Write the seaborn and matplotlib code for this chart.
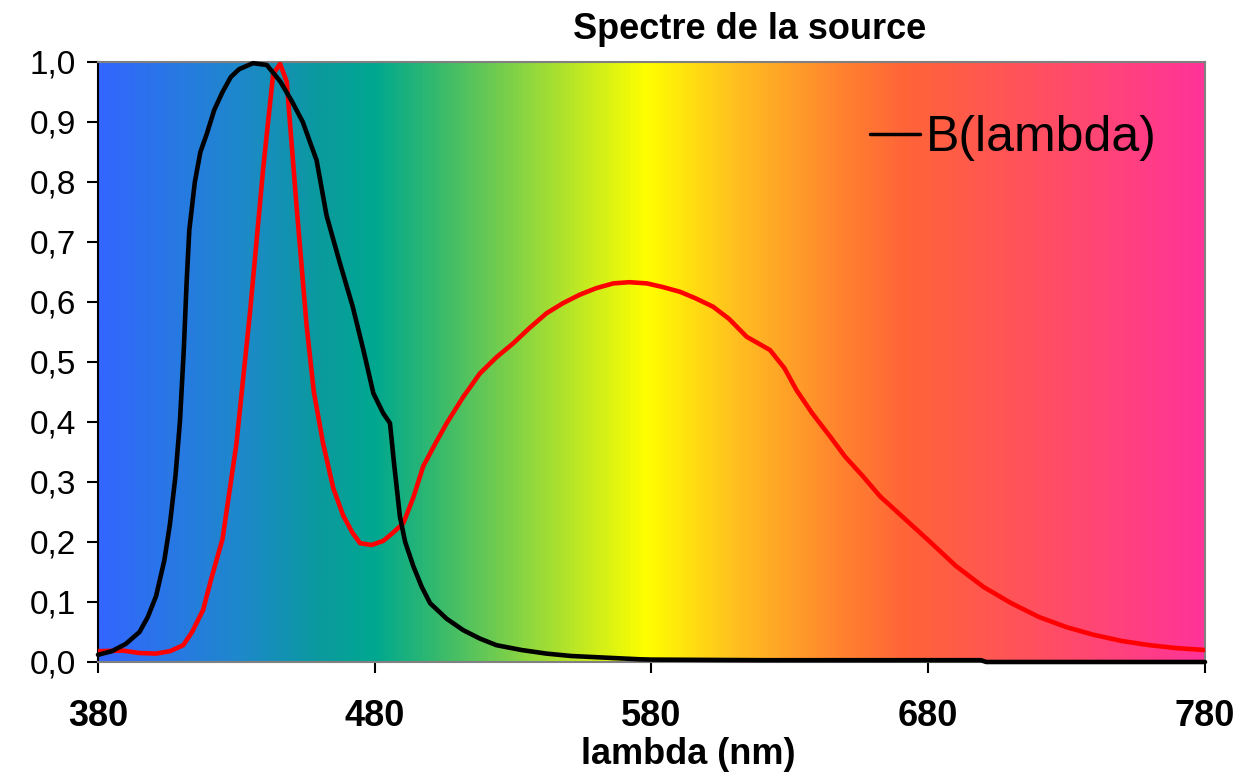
import numpy as np
import pandas as pd
import matplotlib
matplotlib.use("Agg")
import matplotlib.pyplot as plt
import seaborn as sns
from matplotlib.colors import LinearSegmentedColormap

# --- DATA ---
b_lambda = [380, 385, 390, 395, 398, 401, 404, 406, 408, 409.6, 411, 412, 413, 415,
            417, 419.3, 422, 425, 428, 431, 436, 441, 445.8, 450, 454, 459, 462.6,
            467.4, 472, 475.9, 479.5, 483, 485.5, 487, 489.1, 491, 494, 497, 500,
            506, 512, 518, 524, 533, 542, 551, 560, 575.8, 580, 620, 660, 699, 701, 780]
b_value = [0.012, 0.018, 0.03, 0.05, 0.075, 0.11, 0.17, 0.23, 0.31, 0.40, 0.52, 0.63,
           0.72, 0.80, 0.85, 0.88, 0.92, 0.95, 0.975, 0.988, 0.998, 0.995, 0.968, 0.935,
           0.90, 0.836, 0.744, 0.665, 0.593, 0.52, 0.448, 0.415, 0.398, 0.33, 0.242, 0.20,
           0.159, 0.125, 0.098, 0.072, 0.053, 0.039, 0.028, 0.02, 0.014, 0.01, 0.008,
           0.0045, 0.004, 0.003, 0.003, 0.003, 0.0, 0.0]

red_lambda = [380, 389, 395, 401, 406, 410.8, 414, 418, 421, 425, 430, 435, 439.7,
              443.3, 445.8, 448.2, 451.8, 455.4, 458, 461.4, 465, 468.6, 472, 474.7,
              478.9, 483.1, 486, 490.3, 494, 497.5, 502, 506, 512, 518, 524, 530, 536,
              542, 548, 554, 560, 566.2, 572, 578.3, 584, 590.3, 596, 602.3, 608,
              614.4, 622.8, 628, 632.4, 638, 644.5, 650, 656.5, 662.6, 670, 680, 690,
              700, 710, 720, 730, 740, 750, 760, 770, 780]
red_value = [0.018, 0.019, 0.015, 0.014, 0.018, 0.028, 0.05, 0.087, 0.14, 0.205, 0.363,
             0.586, 0.823, 0.98, 0.997, 0.967, 0.757, 0.56, 0.45, 0.363, 0.29, 0.244,
             0.215, 0.198, 0.195, 0.202, 0.213, 0.231, 0.275, 0.326, 0.365, 0.398,
             0.442, 0.481, 0.508, 0.531, 0.557, 0.581, 0.598, 0.612, 0.623, 0.631,
             0.633, 0.631, 0.625, 0.617, 0.606, 0.592, 0.572, 0.542, 0.52, 0.49, 0.453,
             0.415, 0.376, 0.342, 0.309, 0.276, 0.245, 0.203, 0.16, 0.125, 0.098, 0.075,
             0.058, 0.045, 0.035, 0.028, 0.023, 0.02]

# background spectrum colour stops
grad_nm = [380, 430, 460, 480, 500, 520, 545, 578, 610, 650, 672, 720, 780]
grad_colors = ["#3366ff", "#1e88cc", "#0b9a9e", "#00a890", "#30b870", "#66c855",
               "#a8e030", "#ffff00", "#ffc020", "#ff8030", "#ff6438", "#ff5060", "#ff3399"]

x_ticks = [380, 480, 580, 680, 780]
y_ticks = [0.0, 0.1, 0.2, 0.3, 0.4, 0.5, 0.6, 0.7, 0.8, 0.9, 1.0]
y_tick_labels = ["0,0", "0,1", "0,2", "0,3", "0,4", "0,5", "0,6", "0,7", "0,8", "0,9", "1,0"]

sns.set_style("ticks")
plt.rcParams['font.family'] = ['Liberation Sans', 'DejaVu Sans']
plt.rcParams['text.color'] = 'black'
plt.rcParams['xtick.color'] = 'black'
plt.rcParams['ytick.color'] = 'black'

fig = plt.figure(figsize=(12.53, 7.73), dpi=100)
ax = fig.add_axes([0.0782, 0.1436, 0.8835, 0.7762])

# spectrum background
span = (np.array(grad_nm) - 380) / 400.0
cmap = LinearSegmentedColormap.from_list("spectre", list(zip(span, grad_colors)))
ax.imshow(np.linspace(0, 1, 512).reshape(1, -1), cmap=cmap, aspect="auto",
          extent=[380, 780, 0, 1], zorder=0)

df_b = pd.DataFrame({"lambda": b_lambda, "val": b_value})
df_r = pd.DataFrame({"lambda": red_lambda, "val": red_value})
sns.lineplot(data=df_r, x="lambda", y="val", ax=ax, color="#ff0000", lw=3.3,
             label="_nolegend_", zorder=3)
sns.lineplot(data=df_b, x="lambda", y="val", ax=ax, color="black", lw=3.3,
             label="B(lambda)", zorder=4, clip_on=False)

ax.set_xlim(380, 780)
ax.set_ylim(0, 1)
ax.set_xticks(x_ticks)
ax.set_xticklabels([str(t) for t in x_ticks], fontsize=26, fontweight="bold")
ax.set_yticks(y_ticks)
ax.set_yticklabels(y_tick_labels, fontsize=24)
ax.tick_params(axis="both", direction="out", length=8, width=1.5, color="black")
ax.tick_params(axis="x", pad=19)
ax.tick_params(axis="y", pad=8)

for side in ["top", "right", "bottom"]:
    ax.spines[side].set_visible(True)
    ax.spines[side].set_color("#808080")
    ax.spines[side].set_linewidth(1.5)
ax.spines["left"].set_color("black")
ax.spines["left"].set_linewidth(1.5)

ax.set_xlabel("")
ax.set_ylabel("")
fig.text(0.549, 0.024, "lambda (nm)", ha="center", va="center", fontsize=26,
         fontweight="bold")
fig.text(0.598, 0.962, "Spectre de la source", ha="center", va="center",
         fontsize=26, fontweight="bold")

leg = ax.legend(loc="center left", bbox_to_anchor=(0.697, 0.873), frameon=False,
                fontsize=36, handlelength=1.0, handletextpad=0.12, borderpad=0,
                borderaxespad=0)
for h in leg.get_lines():
    h.set_linewidth(2.5)

fig.savefig("out.png", dpi=100)
